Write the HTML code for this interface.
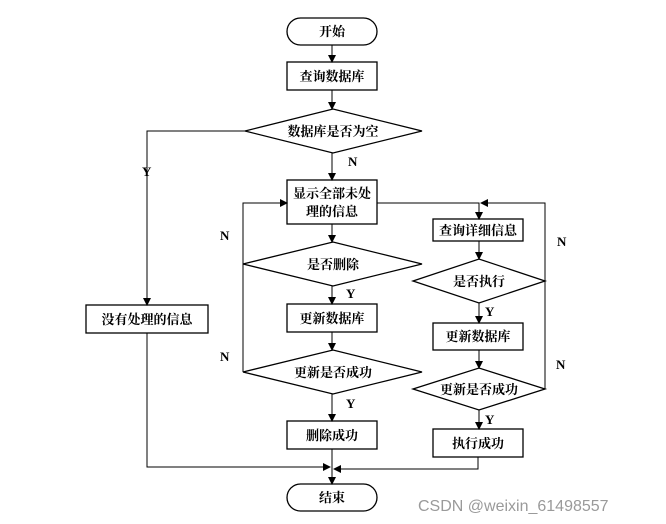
<!DOCTYPE html>
<html><head><meta charset="utf-8"><style>
body{margin:0;background:#fff;}
svg{display:block;}
text{font-family:"Liberation Serif","Noto Serif CJK SC",serif;font-size:13px;font-weight:bold;fill:#000;}
</style></head><body>
<svg width="666" height="524" viewBox="0 0 666 524" xmlns="http://www.w3.org/2000/svg">
<defs><marker id="a" markerWidth="8" markerHeight="8" refX="7" refY="4" orient="auto" markerUnits="userSpaceOnUse"><path d="M0,0 L8,4 L0,8 z" fill="#000"/></marker></defs>
<g fill="none" stroke="#000" stroke-width="1.3">
<rect x="287" y="18" width="90" height="27" rx="13.5"/>
<rect x="287" y="62" width="90" height="28"/>
<polygon points="245,131 333,109 422,131 333,153"/>
<rect x="287" y="180" width="90" height="44"/>
<polygon points="243,264 333,242 422,264 333,286"/>
<rect x="287" y="304" width="90" height="28"/>
<polygon points="243,372 333,350 422,372 333,394"/>
<rect x="287" y="421" width="90" height="28"/>
<rect x="287" y="484" width="90" height="27" rx="13.5"/>
<rect x="86" y="305" width="122" height="28"/>
<rect x="433" y="219" width="90" height="22"/>
<polygon points="413,281 479,259 545,281 479,303"/>
<rect x="433" y="323" width="90" height="27"/>
<polygon points="413,389 479,368 545,389 479,410"/>
<rect x="433" y="429" width="90" height="28"/>
</g>
<g fill="none" stroke="#000" stroke-width="1" marker-end="url(#a)">
<line x1="332" y1="45" x2="332" y2="62"/>
<line x1="332" y1="90" x2="332" y2="109"/>
<line x1="332" y1="153" x2="332" y2="180"/>
<line x1="332" y1="224" x2="332" y2="242"/>
<line x1="332" y1="286" x2="332" y2="304"/>
<line x1="332" y1="332" x2="332" y2="350"/>
<line x1="332" y1="394" x2="332" y2="421"/>
<line x1="332" y1="449" x2="332" y2="484"/>
<polyline points="245,131 147,131 147,305"/>
<polyline points="147,333 147,467 330,467"/>
<polyline points="478,457 478,469 334,469"/>
<polyline points="243,372 243,203 287,203"/>
<polyline points="377,203 479,203 479,219"/>
<polyline points="545,389 545,203 481,203"/>
<line x1="479" y1="241" x2="479" y2="259"/>
<line x1="479" y1="303" x2="479" y2="323"/>
<line x1="479" y1="350" x2="479" y2="368"/>
<line x1="479" y1="410" x2="479" y2="429"/>
</g>
<g text-anchor="middle">
<text x="332" y="36">开始</text>
<text x="332" y="81">查询数据库</text>
<text x="333" y="136">数据库是否为空</text>
<text x="332" y="198">显示全部未处</text>
<text x="332" y="216">理的信息</text>
<text x="333" y="269">是否删除</text>
<text x="332" y="323">更新数据库</text>
<text x="333" y="377">更新是否成功</text>
<text x="332" y="440">删除成功</text>
<text x="332" y="502">结束</text>
<text x="147" y="324">没有处理的信息</text>
<text x="478" y="235">查询详细信息</text>
<text x="479" y="286">是否执行</text>
<text x="478" y="341">更新数据库</text>
<text x="479" y="394">更新是否成功</text>
<text x="478" y="448">执行成功</text>
</g>
<text x="348" y="166">N</text>
<text x="142" y="176">Y</text>
<text x="346" y="298">Y</text>
<text x="346" y="408">Y</text>
<text x="485" y="316">Y</text>
<text x="485" y="424">Y</text>
<text x="220" y="240">N</text>
<text x="220" y="361">N</text>
<text x="557" y="246">N</text>
<text x="556" y="369">N</text>
<text x="418" y="511" style="font-family:'Liberation Sans',sans-serif;font-weight:normal;font-size:16px;fill:#9a9a9a">CSDN @weixin_61498557</text>
</svg>
</body></html>
